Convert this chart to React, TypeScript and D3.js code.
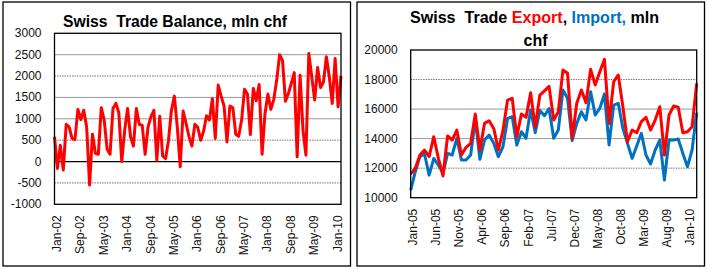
import * as d3 from "d3";

// monthly categories
const balanceMonths = d3.timeMonth.range(new Date(2002, 0, 1), new Date(2010, 3, 1)).map(d3.timeFormat("%b-%y"));
const tradeMonths = d3.timeMonth.range(new Date(2005, 0, 1), new Date(2010, 3, 1)).map(d3.timeFormat("%b-%y"));

// trade balance, mln chf (Jan-02 .. Mar-10)
const balance = [
  580, -160, 380, -200, 870, 810, 540, 515, 1220, 980, 1200, 810,
  -550, 640, 190, 170, 1260, 970, 290, 170, 1240, 1360, 1140, 0,
  730, 1240, 580, 360, 1240, 870, 850, 170, 810, 1050, 1200, 30,
  1060, 130, 70, 500, 1200, 1530, 810, -120, 1180, 890, 590, 360,
  870, 800, 500, 710, 1070, 970, 1470, 540, 1790, 1530, 1300, 460,
  1300, 1260, 640, 590, 970, 1690, 1580, 630, 1710, 1420, 1800, 170,
  1120, 1580, 1220, 1450, 1900, 2500, 2360, 1410, 1590, 1830, 2080, 110,
  2020, 730, 150, 2530, 1980, 1440, 2200, 1730, 1860, 2450, 1980, 1360,
  2410, 1280, 2000,
];

// exports / imports, mln chf (Jan-05 .. Mar-10)
const exportsSeries = [
  11600, 11990, 12890, 13230, 12780, 14130, 12660, 11470, 14180, 13900, 14580, 12890,
  13410, 13680, 15670, 13230, 15030, 15210, 14690, 13230, 14540, 16610, 16730, 14130,
  15670, 15440, 17110, 14760, 16950, 17230, 17540, 15260, 15820, 18640, 18420, 14020,
  16390, 17290, 16430, 18690, 17630, 18530, 19370, 15030, 17850, 18310, 16160, 13790,
  14580, 14400, 15150, 15440, 14580, 15260, 16160, 12890, 15600, 16210, 16120, 14400,
  14470, 14810, 17740,
];
const importsSeries = [
  10520, 11760, 12780, 12960, 11530, 12660, 12210, 11650, 13000, 12890, 14020, 12550,
  12550, 12890, 15300, 12600, 13900, 14240, 13680, 12780, 13450, 15370, 15480, 13570,
  14470, 14020, 15940, 14400, 15900, 15550, 16030, 14020, 14580, 17290, 16730, 13860,
  15030, 15820, 15260, 17180, 15600, 16050, 17020, 13570, 16270, 16390, 14690, 13680,
  12660, 13500, 14360, 12890, 12280, 13230, 13900, 11200, 13900, 13900, 13970, 13000,
  12100, 13230, 15760,
];

const balanceTicks = [-1000, -500, 0, 500, 1000, 1500, 2000, 2500, 3000];
const tradeTicks = [10000, 12000, 14000, 16000, 18000, 20000];
const balanceXLabels = ["Jan-02", "Sep-02", "May-03", "Jan-04", "Sep-04", "May-05", "Jan-06", "Sep-06", "May-07", "Jan-08", "Sep-08", "May-09", "Jan-10"];
const tradeXLabels = ["Jan-05", "Jun-05", "Nov-05", "Apr-06", "Sep-06", "Feb-07", "Jul-07", "Dec-07", "May-08", "Oct-08", "Mar-09", "Aug-09", "Jan-10"];

const RED = "#ff0000";
const BLUE = "#0070c0";
const FONT = "'Liberation Sans', Arial, sans-serif";

function Panel({ box, plot, months, domain, ticks, xLabels, dotted, series, title }) {
  const x = d3.scalePoint().domain(months).range([plot.left, plot.right]);
  const y = d3.scaleLinear().domain(domain).range([plot.bottom, plot.top]);
  const line = d3.line<number>().x((_, i) => x(months[i])).y(d => y(d));

  return (
    <g>
      <rect x={box.x} y={box.y} width={box.w} height={box.h} fill="#fff" stroke="#000" strokeWidth={1.3} />
      {title}
      {ticks.filter(t => t !== domain[0] && t !== domain[1]).map(t => (
        <line key={t} x1={plot.left} x2={plot.right} y1={y(t)} y2={y(t)}
          stroke={t === 0 ? "#000" : dotted.includes(t) ? "#777" : "#999"}
          strokeWidth={t === 0 ? 1.3 : 1}
          strokeDasharray={dotted.includes(t) ? "1.5,1" : undefined} />
      ))}
      {series.map((s, k) => (
        <path key={k} d={line(s.values)} fill="none" stroke={s.color} strokeWidth={3} strokeLinejoin="round" />
      ))}
      <rect x={plot.left} y={plot.top} width={plot.right - plot.left} height={plot.bottom - plot.top}
        fill="none" stroke="#000" strokeWidth={1.3} />
      {ticks.map(t => (
        <text key={t} x={plot.left - 13} y={y(t)} textAnchor="end" dominantBaseline="central"
          fontFamily={FONT} fontSize={12} fill="#111">{t}</text>
      ))}
      {xLabels.map(l => {
        const px = x(l) + 2.5;
        const py = plot.bottom + 11;
        return (
          <text key={l} x={px} y={py} transform={`rotate(-90, ${px}, ${py})`} textAnchor="end"
            dominantBaseline="central" fontFamily={FONT} fontSize={12} fill="#111">{l}</text>
        );
      })}
    </g>
  );
}

export default function App() {
  const titleStyle = { whiteSpace: "pre" as const };
  return (
    <svg width={708} height={269} style={{ position: "absolute", left: 0, top: 0, background: "#fff" }}>
      <Panel
        box={{ x: 3, y: 2, w: 347.5, h: 264 }}
        plot={{ left: 54.5, right: 341, top: 33.3, bottom: 204.3 }}
        months={balanceMonths}
        domain={[-1000, 3000]}
        ticks={balanceTicks}
        xLabels={balanceXLabels}
        dotted={[2000, 500, -500]}
        series={[{ values: balance, color: RED }]}
        title={
          <text x={175} y={26.5} textAnchor="middle" fontFamily={FONT} fontWeight="bold" fontSize={16}
            textLength={224} lengthAdjust="spacingAndGlyphs" style={titleStyle}>Swiss  Trade Balance, mln chf</text>
        }
      />
      <Panel
        box={{ x: 357, y: 2, w: 347.5, h: 264 }}
        plot={{ left: 410.7, right: 696.7, top: 50, bottom: 197.7 }}
        months={tradeMonths}
        domain={[10000, 20000]}
        ticks={tradeTicks}
        xLabels={tradeXLabels}
        dotted={[18000, 12000]}
        series={[{ values: importsSeries, color: BLUE }, { values: exportsSeries, color: RED }]}
        title={
          <g>
            <text x={534.5} y={22.7} textAnchor="middle" fontFamily={FONT} fontWeight="bold" fontSize={16}
              textLength={249} lengthAdjust="spacingAndGlyphs" style={titleStyle}>
              <tspan fill="#000">Swiss  Trade </tspan>
              <tspan fill={RED}>Export</tspan>
              <tspan fill="#000">, </tspan>
              <tspan fill={BLUE}>Import,</tspan>
              <tspan fill="#000"> mln</tspan>
            </text>
            <text x={535.5} y={45.5} textAnchor="middle" fontFamily={FONT} fontWeight="bold" fontSize={16}>chf</text>
          </g>
        }
      />
    </svg>
  );
}
